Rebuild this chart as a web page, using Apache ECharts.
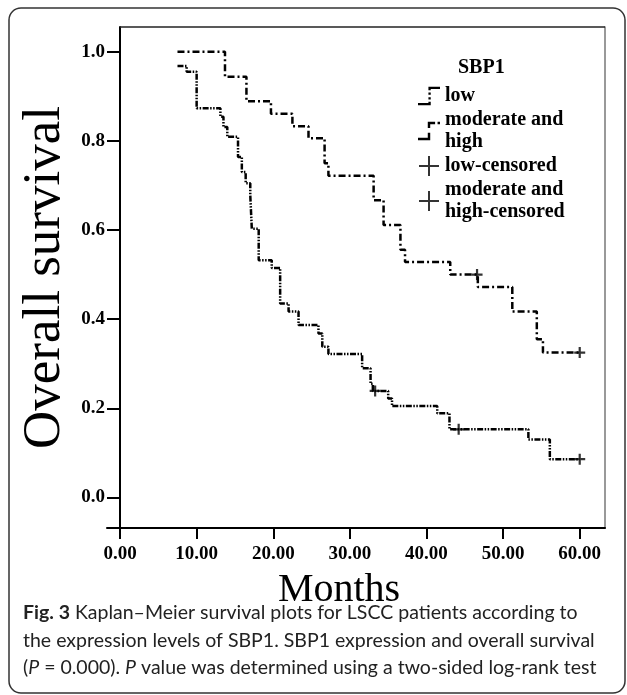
<!DOCTYPE html>
<html>
<head>
<meta charset="utf-8">
<script src="https://cdn.jsdelivr.net/npm/echarts@6/dist/echarts.min.js"></script>
<style>
  html, body { margin: 0; padding: 0; background: #fff; }
  #main { width: 627px; height: 695px; }
</style>
</head>
<body>
<div id="main"></div>
<script>
// 低表达组 (low) 生存曲线, 每个时间点之后的生存率
const lowTime = [7.5, 8.7, 10.0, 13.1, 13.5, 14.0, 15.4, 15.9, 16.4, 17.0, 17.2, 18.1, 19.8, 20.9, 22.0, 23.3, 25.9, 26.4, 27.2, 31.6, 32.7, 33.0, 35.0, 35.5, 41.4, 43.0, 53.3, 56.1, 60.0]
const lowSurv = [0.968, 0.955, 0.873, 0.854, 0.831, 0.809, 0.764, 0.73, 0.705, 0.678, 0.603, 0.532, 0.515, 0.435, 0.417, 0.387, 0.368, 0.338, 0.322, 0.29, 0.255, 0.239, 0.222, 0.205, 0.189, 0.153, 0.13, 0.086, 0.086]
// moderate and high
const modTime = [7.5, 13.7, 16.5, 19.7, 22.5, 24.6, 26.7, 27.2, 33.1, 34.4, 36.6, 37.2, 43.1, 46.7, 51.2, 54.4, 55.2, 60.0]
const modSurv = [1.0, 0.944, 0.889, 0.861, 0.833, 0.806, 0.75, 0.722, 0.667, 0.611, 0.556, 0.528, 0.5, 0.472, 0.417, 0.355, 0.325, 0.325]
// censored
const lowCensTime = [33.3, 44.2, 60.0]
const lowCensSurv = [0.239, 0.153, 0.086]
const modCensTime = [46.6, 60.0]
const modCensSurv = [0.5, 0.325]
// ticks
const xTicks = [0, 10, 20, 30, 40, 50, 60]
const yTicks = [0, 0.2, 0.4, 0.6, 0.8, 1.0]

const pairs = (xs, ys) => xs.map((x, i) => [x, ys[i]])

const serif = 'Liberation Serif'
const capFont = 'Lato'
const plusPath = 'path://M0,9H20V11H0Z M9,0H11V20H9Z'
const plusMark = 'path://M0,8H20V12H0Z M8,0H12V20H8Z'
const stepLow = 'path://M0,17H9V19H0Z M9,3H11V6H9Z M9,8H11V10H9Z M9,12H11V14H9Z M9,16H11V19H9Z M11,3H19V5H11Z'
const stepMod = 'path://M0,17H8V19H0Z M8,4H10V9H8Z M8,13H10V19H8Z M10,4H14V6H10Z M16,4H18V6H16Z'

const myChart = echarts.init(document.getElementById('main'))
const option = {
  animation: false,
  title: [
    {
      text: 'SBP1',
      left: 453,
      top: 53,
      textStyle: { fontFamily: serif, fontWeight: 'bold', fontSize: 20, color: '#000' }
    },
    {
      text: '{b|Fig. 3} Kaplan\u2013Meier survival plots for LSCC patients according to\nthe expression levels of SBP1. SBP1 expression and overall survival\n({i|P} = 0.000). {i|P} value was determined using a two-sided log-rank test',
      left: 18,
      top: 594,
      textStyle: {
        fontFamily: capFont,
        fontSize: 19.5,
        fontWeight: 'normal',
        lineHeight: 27.5,
        color: '#222',
        rich: {
          b: { fontFamily: capFont, fontSize: 19.5, fontWeight: 'bold', color: '#222' },
          i: { fontFamily: capFont, fontSize: 19.5, fontWeight: 'normal', fontStyle: 'italic', color: '#222' }
        }
      }
    }
  ],
  graphic: [
    {
      type: 'rect',
      shape: { x: 9, y: 8, width: 616, height: 685, r: 12 },
      style: { fill: 'none', stroke: '#333', lineWidth: 1.5 },
      silent: true
    }
  ],
  legend: {
    orient: 'vertical',
    left: 413,
    top: 80,
    itemWidth: 22,
    itemHeight: 20,
    itemGap: 2,
    selectedMode: false,
    textStyle: { fontFamily: serif, fontWeight: 'bold', fontSize: 20, lineHeight: 22, color: '#000' },
    data: [
      { name: 'low', icon: stepLow },
      { name: 'moderate and\nhigh', icon: stepMod },
      { name: 'low-censored', icon: plusPath },
      { name: 'moderate and\nhigh-censored', icon: plusPath }
    ]
  },
  grid: { left: 107, right: 22, top: 27, bottom: 167 },
  xAxis: [
    {
      type: 'value',
      min: -1.7,
      max: 63.3,
      axisLine: { show: true, onZero: false, lineStyle: { color: '#000', width: 2 } },
      axisTick: { show: true, customValues: xTicks, length: 11, lineStyle: { color: '#000', width: 2 } },
      axisLabel: {
        customValues: xTicks,
        margin: 17,
        formatter: v => v.toFixed(2),
        fontFamily: serif,
        fontWeight: 'bold',
        fontSize: 19,
        color: '#000'
      },
      splitLine: { show: false },
      name: 'Months',
      nameLocation: 'middle',
      nameGap: 42,
      nameTextStyle: { fontFamily: serif, fontSize: 40, color: '#000', padding: [0, 34, 0, 0] }
    },
    {
      type: 'value',
      position: 'top',
      min: -1.7,
      max: 63.3,
      axisLine: { show: false },
      axisTick: { show: false },
      axisLabel: { show: false },
      splitLine: { show: false }
    }
  ],
  yAxis: [
    {
      type: 'value',
      min: -0.0684,
      max: 1.0554,
      // 向右移到 x=0 处
      offset: -13,
      axisLine: { show: true, onZero: false, lineStyle: { color: '#000', width: 2 } },
      axisTick: { show: true, customValues: yTicks, length: 13, lineStyle: { color: '#000', width: 2 } },
      axisLabel: {
        customValues: yTicks,
        margin: 15,
        formatter: v => v.toFixed(1),
        fontFamily: serif,
        fontWeight: 'bold',
        fontSize: 19,
        color: '#000'
      },
      splitLine: { show: false },
      name: 'Overall survival',
      nameLocation: 'middle',
      nameGap: 48,
      nameMoveOverlap: false,
      nameTextStyle: { fontFamily: serif, fontSize: 53, color: '#000' }
    },
    {
      type: 'value',
      position: 'right',
      min: -0.0684,
      max: 1.0554,
      axisLine: { show: true, onZero: false, lineStyle: { color: '#777', width: 1.5 } },
      axisTick: { show: false },
      axisLabel: { show: false },
      splitLine: { show: false }
    }
  ],
  series: [
    {
      name: 'low',
      type: 'line',
      step: 'end',
      symbol: 'none',
      data: pairs(lowTime, lowSurv),
      itemStyle: { color: '#000' },
      lineStyle: { color: '#000', width: 2.5, type: [6, 1.5, 1.5, 1.5, 1.5, 1.5] },
      // 顶部边框
      markLine: {
        silent: true,
        symbol: 'none',
        label: { show: false },
        lineStyle: { color: '#222', width: 1.5, type: 'solid' },
        data: [[{ coord: [0, 1.0554] }, { coord: [63.3, 1.0554] }]]
      }
    },
    {
      name: 'moderate and\nhigh',
      type: 'line',
      step: 'end',
      symbol: 'none',
      data: pairs(modTime, modSurv),
      itemStyle: { color: '#000' },
      lineStyle: { color: '#000', width: 2.5, type: [7, 3, 2, 3] }
    },
    {
      name: 'low-censored',
      type: 'scatter',
      symbol: plusMark,
      symbolSize: 11,
      data: pairs(lowCensTime, lowCensSurv),
      itemStyle: { color: '#000' },
      z: 5
    },
    {
      name: 'moderate and\nhigh-censored',
      type: 'scatter',
      symbol: plusMark,
      symbolSize: 11,
      data: pairs(modCensTime, modCensSurv),
      itemStyle: { color: '#000' },
      z: 5
    }
  ]
}
myChart.setOption(option)
</script>
</body>
</html>
